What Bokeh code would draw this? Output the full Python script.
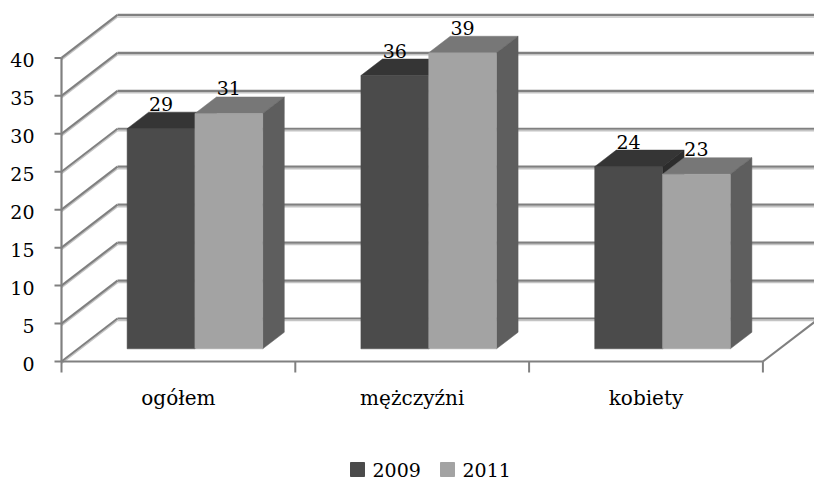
from bokeh.plotting import figure
from bokeh.models import Range1d
from bokeh.core.properties import value
from bokeh.embed import file_html
from bokeh.resources import INLINE

# ---------------- data ----------------
categories = ["ogółem", "mężczyźni", "kobiety"]
series_names = ["2009", "2011"]
values_2009 = [29, 36, 24]
values_2011 = [31, 39, 23]
y_ticks = [0, 5, 10, 15, 20, 25, 30, 35, 40]

# ---------------- layout / style ----------------
W, H = 814, 481
OFF = 0
X0, CW = 61.0, 233.8         # screen x of category 0 front, px per category
Y0, PU = 361.0, 7.59         # screen y of value 0 front, px per value unit
DXPX, DYPX = 56.0, 43.0      # depth of the 3D box in px
DX, DY = DXPX / CW, DYPX / PU
D_F, D_B = 0.295, 0.68       # bar front/back depth fractions
BAR_L, BAR_W = 0.21, 0.29    # bar offset & width inside category
FONT = value("DejaVu Serif")
FS = "19px"
FS_CAT = "20px"
TXT_SHIFT = 6.0

front_cols = ["#4b4b4b", "#a3a3a3"]
top_cols = ["#353535", "#777777"]
side_cols = ["#2c2c2c", "#5e5e5e"]
grid_dark = "#808080"
grid_light = "#c4c4c4"


def sx(px):
    return (px - X0) / CW


def sy(py):
    return (Y0 - py) / PU


p = figure(width=W, height=H, output_backend="svg", toolbar_location=None,
           x_axis_type=None, y_axis_type=None,
           x_range=Range1d(sx(OFF), sx(OFF + W)),
           y_range=Range1d(sy(OFF + H), sy(OFF)),
           min_border=0)
p.grid.visible = False
p.outline_line_color = None
p.background_fill_color = "white"

ncat = len(categories)
x_end = ncat + DX + 0.1
shadow = 2.0 / PU

# back wall gridlines
bx0 = [DX for v in y_ticks]
bx1 = [x_end for v in y_ticks]
by = [v + DY for v in y_ticks]
p.segment(x0=bx0, y0=[y - shadow for y in by], x1=bx1, y1=[y - shadow for y in by],
          line_color=grid_light, line_width=1.5)
p.segment(x0=bx0, y0=by, x1=bx1, y1=by, line_color=grid_dark, line_width=2.2)

# left wall diagonals
lx0 = [0.0 for v in y_ticks]
ly0 = [float(v) for v in y_ticks]
lx1 = [DX for v in y_ticks]
ly1 = [v + DY for v in y_ticks]
p.segment(x0=lx0, y0=[y - shadow for y in ly0], x1=lx1, y1=[y - shadow for y in ly1],
          line_color=grid_light, line_width=1.5)
p.segment(x0=lx0, y0=ly0, x1=lx1, y1=ly1, line_color=grid_dark, line_width=2.2)

# floor
p.segment(x0=[0, ncat], y0=[0, 0], x1=[ncat, ncat + DX], y1=[0, DY],
          line_color=grid_dark, line_width=2.2)
cat_edges = list(range(ncat + 1))
p.segment(x0=cat_edges, y0=[0] * len(cat_edges), x1=cat_edges,
          y1=[-11.0 / PU] * len(cat_edges), line_color=grid_dark, line_width=2)

# value axis
p.segment(x0=[0], y0=[0], x1=[0], y1=[max(y_ticks)], line_color=grid_dark, line_width=2.2)
p.segment(x0=[-7.0 / CW] * len(y_ticks), y0=y_ticks, x1=[0] * len(y_ticks), y1=y_ticks,
          line_color=grid_dark, line_width=2)
p.text(x=[sx(34)] * len(y_ticks), y=[v + (TXT_SHIFT - 8.0) / PU for v in y_ticks],
       text=[str(v) for v in y_ticks], text_align="right", text_baseline="alphabetic",
       text_font=FONT, text_font_size=FS, text_color="black")

# bars
all_vals = [values_2009, values_2011]
for s, vals in enumerate(all_vals):
    fx, fy, tx, ty, sxs, sys_ = [], [], [], [], [], []
    lab_x, lab_y = [], []
    for i, v in enumerate(vals):
        xl = i + BAR_L + s * BAR_W
        xr = xl + BAR_W
        fdx, fdy = D_F * DX, D_F * DY
        bdx, bdy = D_B * DX, D_B * DY
        fx.append([xl + fdx, xr + fdx, xr + fdx, xl + fdx])
        fy.append([fdy, fdy, v + fdy, v + fdy])
        tx.append([xl + fdx, xr + fdx, xr + bdx, xl + bdx])
        ty.append([v + fdy, v + fdy, v + bdy, v + bdy])
        sxs.append([xr + fdx, xr + bdx, xr + bdx, xr + fdx])
        sys_.append([fdy, bdy, v + bdy, v + fdy])
        lab_x.append((xl + xr) / 2 + fdx)
        lab_y.append(v + bdy + (2.5 + TXT_SHIFT) / PU)
    p.patches(xs=tx, ys=ty, fill_color=top_cols[s], line_color=top_cols[s], line_width=0.5)
    p.patches(xs=sxs, ys=sys_, fill_color=side_cols[s], line_color=side_cols[s], line_width=0.5)
    p.patches(xs=fx, ys=fy, fill_color=front_cols[s], line_color=front_cols[s], line_width=0.5)
    p.text(x=lab_x, y=lab_y, text=[str(v) for v in vals], text_align="center",
           text_baseline="alphabetic", text_font=FONT, text_font_size=FS, text_color="black")

# category labels
p.text(x=[i + 0.5 for i in range(ncat)], y=[sy(403 - TXT_SHIFT)] * ncat, text=categories,
       text_align="center", text_baseline="alphabetic", text_font=FONT,
       text_font_size=FS_CAT, text_color="black")

# legend
leg_sq_x = [sx(357), sx(447)]
leg_y = sy(469)
p.scatter(x=leg_sq_x, y=[leg_y, leg_y], marker="square", size=14,
          fill_color=front_cols, line_color=front_cols)
p.text(x=[sx(372), sx(462)], y=[sy(475.5 - TXT_SHIFT)] * 2, text=series_names, text_align="left",
       text_baseline="alphabetic", text_font=FONT, text_font_size=FS, text_color="black")

open("out.html", "w").write(file_html(p, INLINE))
